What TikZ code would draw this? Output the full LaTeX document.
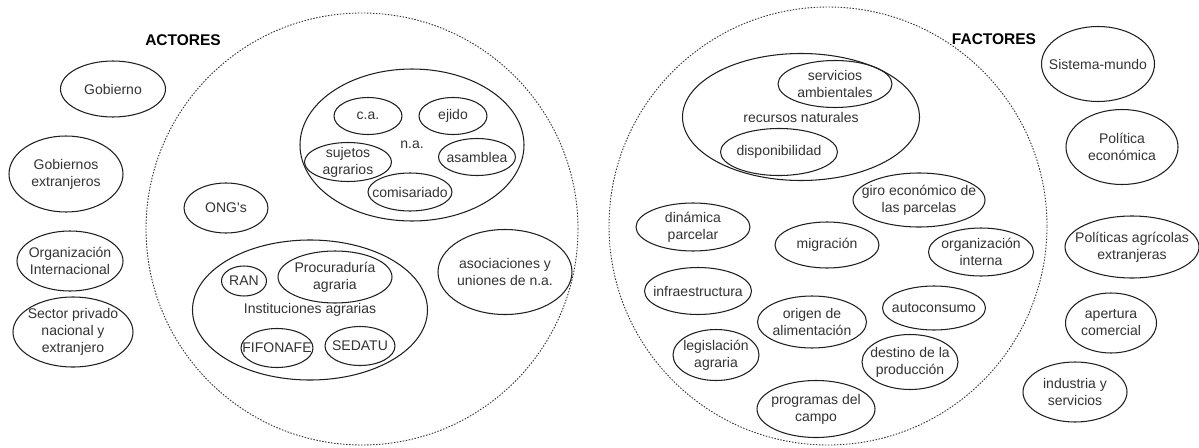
\documentclass[tikz,border=0pt]{standalone}
\usepackage{fontspec}
\setmainfont{Liberation Sans}
\definecolor{txt}{HTML}{333333}
\tikzset{
  eltext/.style={inner sep=0pt, align=center, font=\fontsize{14}{17}\selectfont, text=txt},
  elline/.style={draw=black!88, line width=1.05pt},
  big/.style={draw=black!80, line width=0.9pt, dash pattern=on 1.5pt off 1.5pt},
  ttl/.style={font=\fontsize{15.5}{18}\selectfont\bfseries, text=black}
}
% #1 name, #2 centre, #3 width, #4 height, #5 text
\newcommand{\myell}[5]{%
  \node[eltext] (#1) at (#2) {#5};
  \draw[elline] (#1.center) ellipse [x radius={#3pt/2}, y radius={#4pt/2}];}
\begin{document}
\begin{tikzpicture}[x=1pt,y=-1pt]
\fill[white] (0,0) rectangle (1199,447);
\useasboundingbox (0,0) rectangle (1199,447);
% big dotted circles
\coordinate (actc) at (362,229);
\coordinate (facc) at (828,226);
\draw[big] (actc) circle [radius=216pt];
\draw[big] (facc) circle [radius=219pt];
\node[ttl] (act) at (183,40) {ACTORES};
\node[ttl] (fac) at (994,39) {FACTORES};
% left outside
\myell{gob}{113,89}{105}{56}{Gobierno}
\myell{gext}{66,174}{114}{76}{Gobiernos\\extranjeros}
\myell{orgint}{70,261}{106}{60}{Organización\\Internacional}
\myell{secpriv}{73,332}{120}{70}{Sector privado\\nacional y\\extranjero}
% left inside
\myell{ong}{226,208}{84}{50}{ONG\textquotesingle s}
\myell{na}{412,145}{224}{152}{n.a.}
\myell{ca}{368,116}{68}{37}{c.a.}
\myell{ejido}{453,116}{68}{37}{ejido}
\myell{sujetos}{348,162}{87}{39}{sujetos\\agrarios}
\myell{asamblea}{477,157}{77}{37}{asamblea}
\myell{comis}{410,192}{84}{38}{comisariado}
\myell{inst}{310,310}{235}{140}{Instituciones agrarias}
\myell{ran}{244,281}{45}{30}{RAN}
\myell{procu}{335,277}{114}{52}{Procuraduría\\agraria}
\myell{fifo}{277,348}{72}{39}{FIFONAFE}
\myell{sedatu}{360,346}{70}{39}{SEDATU}
\myell{asoc}{505,272}{134}{85}{asociaciones y\\uniones de n.a.}
% right inside
\myell{recnat}{801,117}{237}{127}{recursos naturales}
\myell{servamb}{835,84}{114}{47}{servicios\\ambientales}
\myell{disp}{779,152}{117}{47}{disponibilidad}
\myell{giro}{919,200}{132}{54}{giro económico de\\las parcelas}
\myell{dinam}{693,227}{114}{48}{dinámica\\parcelar}
\myell{migr}{827,245}{104}{46}{migración}
\myell{orgintr}{981,252}{105}{48}{organización\\interna}
\myell{infra}{698,291}{107}{47}{infraestructura}
\myell{autoc}{934,308}{103}{44}{autoconsumo}
\myell{origen}{812,322}{109}{52}{origen de\\alimentación}
\myell{legis}{716,355}{86}{51}{legislación\\agraria}
\myell{destino}{910,362}{96}{55}{destino de la\\producción}
\myell{prog}{816,409}{118}{57}{programas del\\campo}
% right outside
\myell{sismun}{1098,64}{113}{75}{Sistema-mundo}
\myell{polec}{1122,147}{112}{75}{Política\\económica}
\myell{polagr}{1132,247}{134}{62}{Políticas agrícolas\\extranjeras}
\myell{apert}{1111,323}{91}{60}{apertura\\comercial}
\myell{indus}{1075,392}{104}{60}{industria y\\servicios}
\end{tikzpicture}
\end{document}
